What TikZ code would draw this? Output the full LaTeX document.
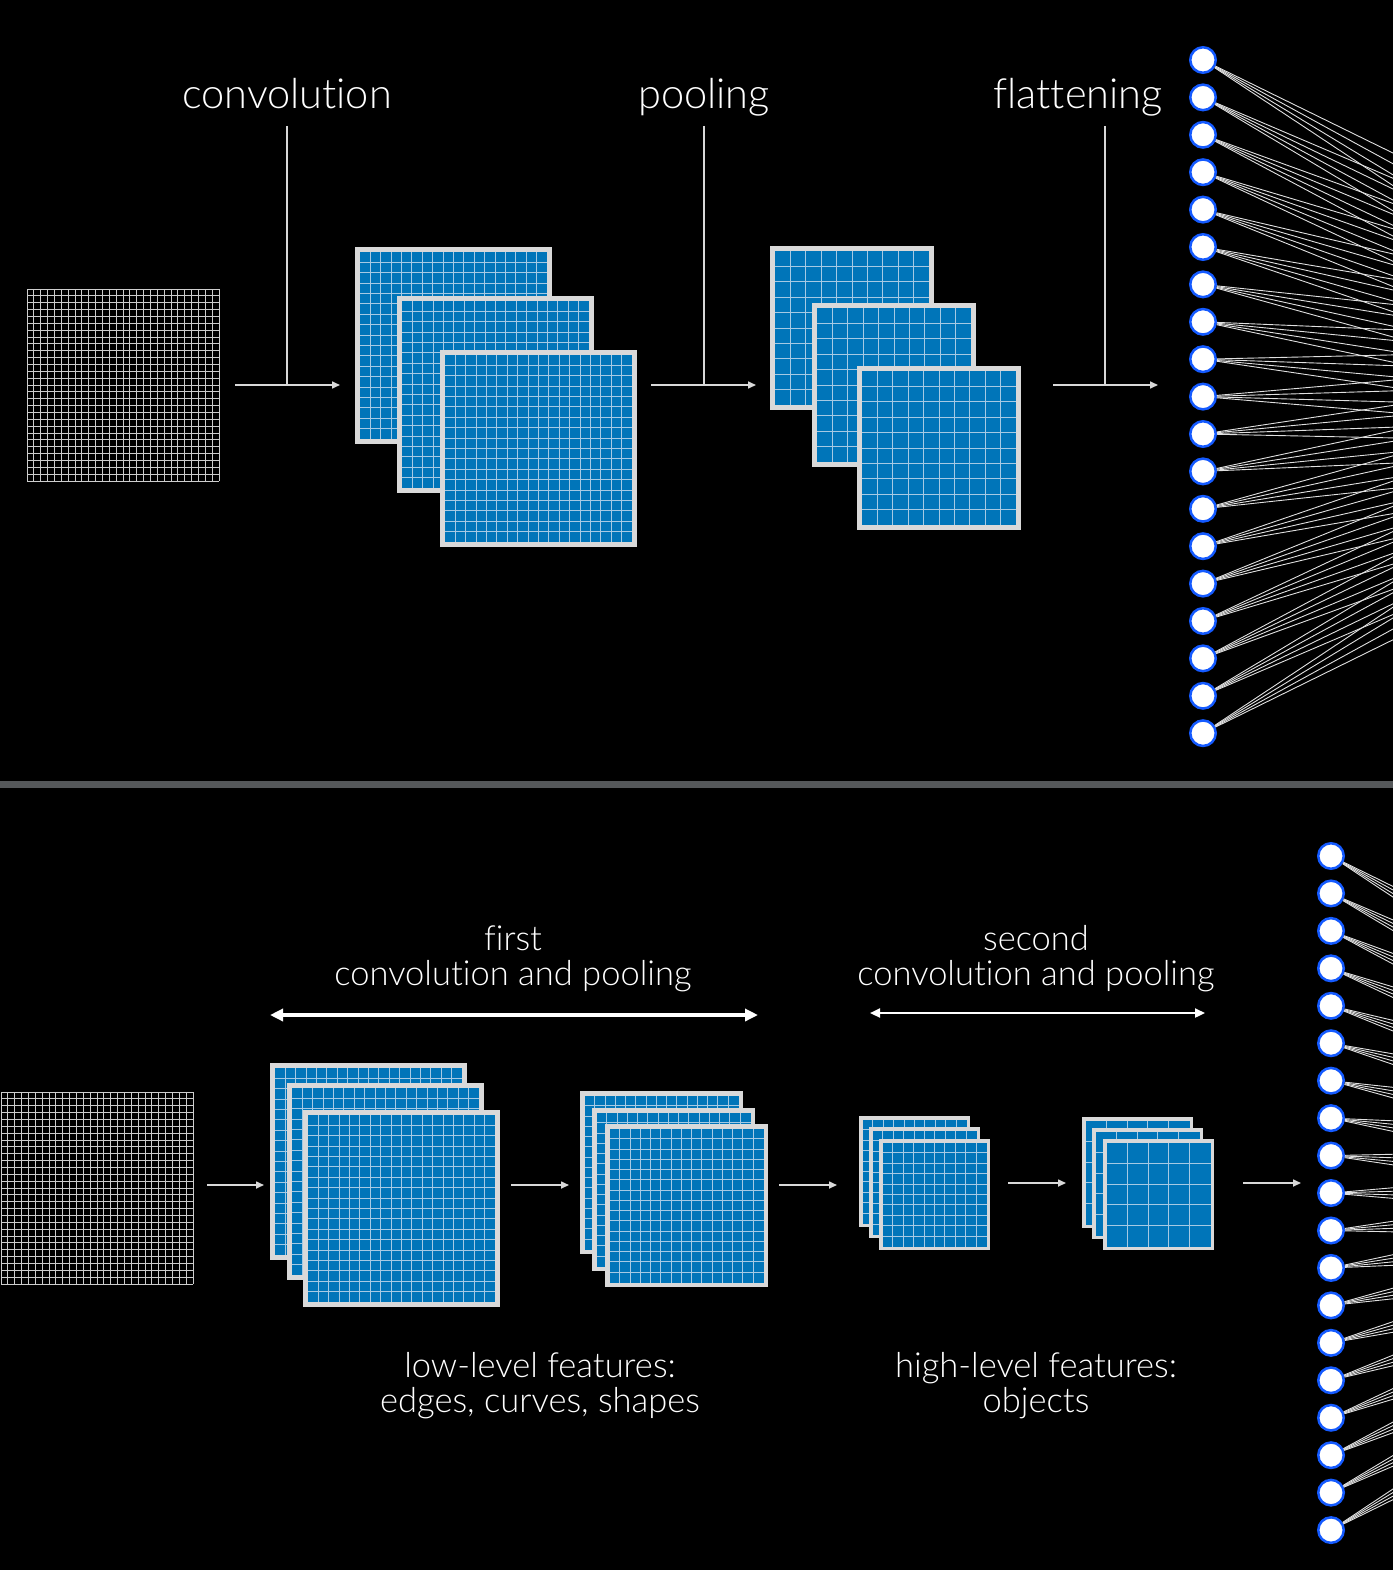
\documentclass[tikz,border=0pt]{standalone}
\usepackage{fontspec}
\setmainfont{Lato}[UprightFont=* Light, Ligatures=NoCommon]
\usetikzlibrary{arrows.meta}
\definecolor{mapblue}{RGB}{0,117,185}
\definecolor{mapgray}{RGB}{217,217,217}
\definecolor{mapline}{RGB}{165,202,228}
\definecolor{neuronblue}{RGB}{20,90,255}
\definecolor{divgray}{RGB}{85,88,90}
\definecolor{inline}{RGB}{205,205,205}
\newcommand\featmap[6]{% name, x, y, size, cells, border
  \pgfmathsetmacro\fmnode{#4-#6}
  \pgfmathsetmacro\fmin{#4-2*#6}
  \pgfmathsetmacro\fmstep{\fmin/#5}
  \pgfmathtruncatemacro\fmlast{#5-1}
  \node[mapnode, line width=#6pt, minimum size=\fmnode pt] (#1) at ({#2+#4/2},{#3+#4/2}) {};
  \foreach \k in {1,...,\fmlast}{
    \draw[mapgridline] ({#2+#6+\k*\fmstep},{#3+#6}) -- ++(0,\fmin);
    \draw[mapgridline] ({#2+#6},{#3+#6+\k*\fmstep}) -- ++(\fmin,0);
  }
}
\newcommand\inputgrid[5]{% name, x, y, size, cells
  \node[inner sep=0pt, minimum size=#4pt] (#1) at ({#2+#4/2},{#3+#4/2}) {};
  \pgfmathsetmacro\igstep{#4/#5}
  \foreach \k in {0,...,#5}{
    \draw[inputline] ({#2+\k*\igstep},#3) -- ++(0,#4);
    \draw[inputline] (#2,{#3+\k*\igstep}) -- ++(#4,0);
  }
}
\tikzset{
  mapnode/.style={rectangle, fill=mapblue, draw=mapgray, inner sep=0pt},
  mapgridline/.style={draw=mapline, line width=1pt},
  inputline/.style={draw=inline, line width=0.9pt},
  neuron/.style={circle, fill=white, draw=neuronblue, line width=2.5pt, minimum size=25.5pt, inner sep=0pt},
  fan/.style={draw=white!88!black, line width=0.9pt},
  flow/.style={draw=white!85!black, line width=1.6pt, -{Triangle[length=8pt,width=7pt]}},
  labelline/.style={draw=white!85!black, line width=1.3pt},
  toplabel/.style={text=white, font=\fontsize{41.5}{48}\selectfont, anchor=base, inner sep=0pt},
  botlabel/.style={text=white, font=\fontsize{34.5}{40}\selectfont, anchor=base, inner sep=0pt},
  spanbig/.style={draw=white, line width=3.5pt, {Triangle[length=13pt,width=12pt]}-{Triangle[length=13pt,width=12pt]}},
  spansmall/.style={draw=white, line width=2.2pt, {Triangle[length=10pt,width=9pt]}-{Triangle[length=10pt,width=9pt]}}
}
\begin{document}
\begin{tikzpicture}[x=1pt,y=-1pt]
\clip (0,0) rectangle (1393,1570);
\fill[black] (0,0) rectangle (1393,1570);

% ---------------- top section ----------------
\inputgrid{tin}{27}{289}{192}{28}
\featmap{tc1}{355}{247}{197}{18}{5}
\featmap{tc2}{397}{296}{197}{18}{5}
\featmap{tc3}{440}{350}{197}{18}{5}
\featmap{tp1}{770}{246}{164}{10}{5}
\featmap{tp2}{812}{303}{164}{10}{5}
\featmap{tp3}{857}{366}{164}{10}{5}

\coordinate (ta1s) at (235,385); \coordinate (ta1e) at (340,385);
\coordinate (ta2s) at (651,385); \coordinate (ta2e) at (756,385);
\coordinate (ta3s) at (1053,385); \coordinate (ta3e) at (1158,385);
\draw[flow] (ta1s) -- (ta1e);
\draw[flow] (ta2s) -- (ta2e);
\draw[flow] (ta3s) -- (ta3e);

\coordinate (tl1t) at (287,126); \coordinate (tl1b) at (287,385);
\coordinate (tl2t) at (704,126); \coordinate (tl2b) at (704,385);
\coordinate (tl3t) at (1105,126); \coordinate (tl3b) at (1105,385);
\draw[labelline] (tl1t) -- (tl1b);
\draw[labelline] (tl2t) -- (tl2b);
\draw[labelline] (tl3t) -- (tl3b);

\node[toplabel] (lconv) at (287,109) {convolution};
\node[toplabel] (lpool) at (704,109) {pooling};
\node[toplabel] (lflat) at (1078,109) {flattening};

\foreach \j/\yy in {1/346,2/379,3/413,4/446}{
  \coordinate (th\j) at (1787,\yy);
}
\foreach \i in {1,...,19}{
  \node[neuron] (tn\i) at (1203,{60+(\i-1)*37.4}) {};
}
\foreach \i in {1,...,19}{
  \foreach \j in {1,...,4}{
    \draw[fan] (tn\i) -- (th\j);
  }
}

% ---------------- divider ----------------
\fill[divgray] (0,781) rectangle (1393,788);

% ---------------- bottom section ----------------
\inputgrid{bin}{1}{1092}{192}{28}
\featmap{bc1}{270}{1063}{197}{18}{5}
\featmap{bc2}{287}{1083}{197}{18}{5}
\featmap{bc3}{303}{1110}{197}{18}{5}
\featmap{bp1}{580}{1091}{163}{15}{4.5}
\featmap{bp2}{592}{1108}{163}{15}{4.5}
\featmap{bp3}{605}{1124}{163}{15}{4.5}
\featmap{bd1}{859}{1116}{111}{10}{3.5}
\featmap{bd2}{869}{1127}{111}{10}{3.5}
\featmap{bd3}{879}{1139}{111}{10}{3.5}
\featmap{bq1}{1082}{1117}{111}{5}{3.5}
\featmap{bq2}{1092}{1128}{111}{5}{3.5}
\featmap{bq3}{1103}{1139}{111}{5}{3.5}

\coordinate (ba1s) at (207,1185); \coordinate (ba1e) at (264,1185);
\coordinate (ba2s) at (511,1185); \coordinate (ba2e) at (569,1185);
\coordinate (ba3s) at (779,1185); \coordinate (ba3e) at (837,1185);
\coordinate (ba4s) at (1008,1183); \coordinate (ba4e) at (1066,1183);
\coordinate (ba5s) at (1243,1183); \coordinate (ba5e) at (1301,1183);
\draw[flow] (ba1s) -- (ba1e);
\draw[flow] (ba2s) -- (ba2e);
\draw[flow] (ba3s) -- (ba3e);
\draw[flow] (ba4s) -- (ba4e);
\draw[flow] (ba5s) -- (ba5e);

\coordinate (sp1l) at (270,1015); \coordinate (sp1r) at (758,1015);
\coordinate (sp2l) at (870,1013); \coordinate (sp2r) at (1205,1013);
\draw[spanbig] (sp1l) -- (sp1r);
\draw[spansmall] (sp2l) -- (sp2r);

\node[botlabel] (lfirst) at (513,950) {first};
\node[botlabel] (lfirst2) at (513,985) {convolution and pooling};
\node[botlabel] (lsecond) at (1036,950) {second};
\node[botlabel] (lsecond2) at (1036,985) {convolution and pooling};
\node[botlabel] (llow) at (540,1377) {low-level features:};
\node[botlabel] (llow2) at (540,1412) {edges, curves, shapes};
\node[botlabel] (lhigh) at (1036,1377) {high-level features:};
\node[botlabel] (lhigh2) at (1036,1412) {objects};

\foreach \j/\yy in {1/1143,2/1176,3/1210,4/1243}{
  \coordinate (bh\j) at (1915,\yy);
}
\foreach \i in {1,...,19}{
  \node[neuron] (bn\i) at (1331,{856+(\i-1)*37.45}) {};
}
\foreach \i in {1,...,19}{
  \foreach \j in {1,...,4}{
    \draw[fan] (bn\i) -- (bh\j);
  }
}
\end{tikzpicture}
\end{document}
